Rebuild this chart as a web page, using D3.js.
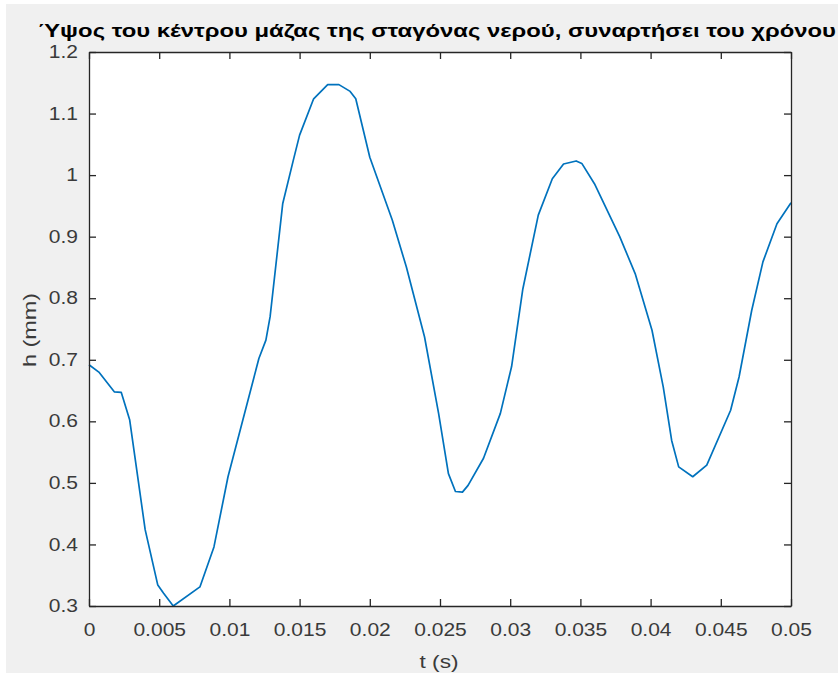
<!DOCTYPE html>
<html>
<head>
<meta charset="utf-8">
<script src="https://cdn.jsdelivr.net/npm/d3@7"></script>
<style>
  html, body { margin: 0; padding: 0; background: #ffffff; }
  svg { display: block; }
  text { font-family: "Liberation Sans", Arial, Helvetica, sans-serif; }
</style>
</head>
<body>
<svg id="chart" width="838" height="673"></svg>
<script>
// Time samples (s) and centre-of-mass height (mm)
const timeS = [0, 0.0007, 0.0018, 0.0023, 0.0029, 0.0040, 0.0049, 0.0053, 0.0060, 0.0079,
  0.0089, 0.0099, 0.0121, 0.0126, 0.0129, 0.0138, 0.01455, 0.0150, 0.0160, 0.0170,
  0.0178, 0.0186, 0.0190, 0.0200, 0.0216, 0.0226, 0.0239, 0.0249, 0.0256, 0.0261,
  0.0266, 0.0270, 0.0281, 0.0293, 0.0301, 0.0309, 0.0320, 0.0330, 0.0338, 0.0347,
  0.0351, 0.0360, 0.0378, 0.0389, 0.0401, 0.0409, 0.0415, 0.0420, 0.0430, 0.0440,
  0.0457, 0.0463, 0.0472, 0.0480, 0.0490, 0.0500];
const heightMm = [0.692, 0.680, 0.648, 0.647, 0.602, 0.424, 0.334, 0.321, 0.300, 0.331,
  0.396, 0.510, 0.702, 0.732, 0.770, 0.954, 1.024, 1.065, 1.124, 1.147,
  1.147, 1.136, 1.124, 1.029, 0.927, 0.851, 0.737, 0.613, 0.515, 0.486,
  0.485, 0.496, 0.540, 0.613, 0.689, 0.815, 0.935, 0.994, 1.018, 1.023,
  1.019, 0.986, 0.900, 0.840, 0.748, 0.656, 0.569, 0.526, 0.510, 0.529,
  0.618, 0.672, 0.780, 0.859, 0.921, 0.955];

const xTicks = [0, 0.005, 0.01, 0.015, 0.02, 0.025, 0.03, 0.035, 0.04, 0.045, 0.05];
const xTickLabels = ["0", "0.005", "0.01", "0.015", "0.02", "0.025", "0.03", "0.035", "0.04", "0.045", "0.05"];
const yTicks = [0.3, 0.4, 0.5, 0.6, 0.7, 0.8, 0.9, 1.0, 1.1, 1.2];
const yTickLabels = ["0.3", "0.4", "0.5", "0.6", "0.7", "0.8", "0.9", "1", "1.1", "1.2"];

const titleText = "Ύψος του κέντρου μάζας της σταγόνας νερού, συναρτήσει του χρόνου";
const xLabel = "t (s)";
const yLabel = "h (mm)";

const svg = d3.select("#chart");
const W = 838, H = 673;
const plot = { left: 89, right: 791, top: 52, bottom: 606 };
const axisColor = "#262626";
const labelColor = "#3a3a3a";
const tickLen = 7;
const stretchX = 1.2;   // horizontal widening of the figure text

// widen each text element horizontally by a fixed factor
function widen(sel, factor) {
  sel.each(function () {
    const len = this.getComputedTextLength();
    if (len > 0) {
      d3.select(this).attr("textLength", len * factor).attr("lengthAdjust", "spacingAndGlyphs");
    }
  });
}

// figure background
svg.append("rect").attr("x", 6).attr("y", 4).attr("width", W - 6).attr("height", H - 4)
  .attr("fill", "#f0f0f0");

// axes background
svg.append("rect")
  .attr("x", plot.left).attr("y", plot.top)
  .attr("width", plot.right - plot.left).attr("height", plot.bottom - plot.top)
  .attr("fill", "#ffffff");

const x = d3.scaleLinear().domain([0, 0.05]).range([plot.left, plot.right]);
const y = d3.scaleLinear().domain([0.3, 1.2]).range([plot.bottom, plot.top]);

// data line
const pts = timeS.map((t, i) => [t, heightMm[i]]);
const line = d3.line().x(d => x(d[0])).y(d => y(d[1]));
svg.append("path").datum(pts)
  .attr("d", line)
  .attr("fill", "none")
  .attr("stroke", "#0072bd")
  .attr("stroke-width", 1.7)
  .attr("stroke-linejoin", "round");

// axes (ticks pointing inward, box on)
const fmtX = (d, i) => xTickLabels[i];
const fmtY = (d, i) => yTickLabels[i];

const gx = svg.append("g").attr("transform", `translate(0,${plot.bottom})`)
  .call(d3.axisBottom(x).tickValues(xTicks).tickFormat(fmtX).tickSizeInner(-tickLen).tickSizeOuter(0).tickPadding(18));
const gxTop = svg.append("g").attr("transform", `translate(0,${plot.top})`)
  .call(d3.axisTop(x).tickValues(xTicks).tickFormat("").tickSizeInner(-tickLen).tickSizeOuter(0));
const gy = svg.append("g").attr("transform", `translate(${plot.left},0)`)
  .call(d3.axisLeft(y).tickValues(yTicks).tickFormat(fmtY).tickSizeInner(-tickLen).tickSizeOuter(0).tickPadding(11));
const gyRight = svg.append("g").attr("transform", `translate(${plot.right},0)`)
  .call(d3.axisRight(y).tickValues(yTicks).tickFormat("").tickSizeInner(-tickLen).tickSizeOuter(0));

[gx, gxTop, gy, gyRight].forEach(g => {
  g.select(".domain").attr("stroke", axisColor).attr("stroke-width", 1.3);
  g.selectAll(".tick line").attr("stroke", axisColor).attr("stroke-width", 1.3);
  g.selectAll(".tick text").attr("fill", labelColor).attr("font-size", 17.5)
    .attr("font-family", '"Liberation Sans", Arial, sans-serif');
});
widen(gx.selectAll(".tick text"), stretchX);
widen(gy.selectAll(".tick text"), stretchX);

// title
svg.append("text")
  .attr("x", 437).attr("y", 37)
  .attr("text-anchor", "middle")
  .attr("font-size", 18.5).attr("font-weight", "bold").attr("fill", "#000000")
  .attr("textLength", 798).attr("lengthAdjust", "spacingAndGlyphs")
  .text(titleText);

// axis labels
svg.append("text")
  .attr("x", 439).attr("y", 668)
  .attr("text-anchor", "middle").attr("font-size", 19).attr("fill", labelColor)
  .attr("textLength", 39).attr("lengthAdjust", "spacingAndGlyphs")
  .text(xLabel);

svg.append("text")
  .attr("transform", `translate(36,330) rotate(-90)`)
  .attr("text-anchor", "middle").attr("font-size", 19).attr("fill", labelColor)
  .attr("textLength", 74).attr("lengthAdjust", "spacingAndGlyphs")
  .text(yLabel);
</script>
</body>
</html>
